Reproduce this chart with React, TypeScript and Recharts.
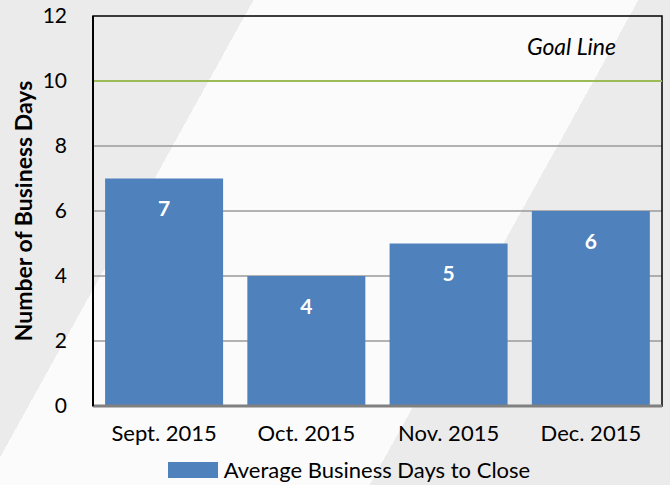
import React from 'react';
import {
  BarChart,
  Bar,
  XAxis,
  YAxis,
  CartesianGrid,
  ReferenceLine,
  ReferenceArea,
  Legend,
  LabelList,
} from 'recharts';

document.body.style.margin = '0';

const months = ['Sept. 2015', 'Oct. 2015', 'Nov. 2015', 'Dec. 2015'];
const avgDays = [7, 4, 5, 6];
const yTicks = [0, 2, 4, 6, 8, 10, 12];
const goal = 10;
const seriesName = 'Average Business Days to Close';

const data = months.map((m, i) => ({ month: m, days: avgDays[i] }));

const FONT = 'Lato, "Open Sans", sans-serif';

const LegendContent = () => (
  <div
    style={{
      display: 'flex',
      justifyContent: 'center',
      alignItems: 'center',
      fontFamily: FONT,
      fontSize: 22,
      color: '#000',
      paddingLeft: 36,
    }}
  >
    <span style={{ width: 50, height: 16, background: '#4f81bd', marginRight: 6, display: 'inline-block' }} />
    <span>{seriesName}</span>
  </div>
);

const App: React.FC = () => {
  return (
    <div
      style={{
        width: 670,
        height: 485,
        background:
          'linear-gradient(119deg, #ebebeb 0%, #ebebeb 27%, #fbfbfb 27%, #fbfbfb 68%, #ebebeb 68%, #ebebeb 100%)',
        fontFamily: FONT,
      }}
    >
      <BarChart
        width={670}
        height={485}
        data={data}
        margin={{ top: 16, right: 8, bottom: 22, left: 0 }}
        barCategoryGap="8.5%"
      >
        <CartesianGrid vertical={false} stroke="#9a9a9a" strokeWidth={1.5} horizontalValues={[2, 4, 6, 8]} />
        <ReferenceArea y1={0} y2={12} fill="none" stroke="#000" strokeWidth={1.5} ifOverflow="visible" />
        <XAxis
          dataKey="month"
          tickLine={false}
          axisLine={{ stroke: '#808080', strokeWidth: 3 }}
          tick={{ fill: '#000', fontSize: 22, fontFamily: FONT }}
          tickMargin={13}
        />
        <YAxis
          width={93}
          domain={[0, 12]}
          ticks={yTicks}
          interval={0}
          tickLine={false}
          axisLine={{ stroke: '#000', strokeWidth: 2 }}
          tick={{ fill: '#000', fontSize: 21, fontFamily: FONT }}
          tickMargin={20}
          label={{
            value: 'Number of Business Days',
            angle: -90,
            position: 'insideLeft',
            offset: 24,
            style: { textAnchor: 'middle', fontWeight: 700, fontSize: 23, fill: '#000', fontFamily: FONT },
          }}
        />
        <ReferenceLine
          y={goal}
          stroke="#9bbb59"
          strokeWidth={2}
          label={{
            value: 'Goal Line',
            position: 'insideTopRight',
            offset: 0,
            dx: -46,
            dy: -42,
            style: { fontStyle: 'italic', fontSize: 23, fill: '#000', fontFamily: FONT },
          }}
        />
        <Bar dataKey="days" name={seriesName} fill="#4f81bd" isAnimationActive={false}>
          <LabelList
            dataKey="days"
            position="insideTop"
            offset={23}
            style={{ fill: '#fff', fontWeight: 700, fontSize: 21, fontFamily: FONT }}
          />
        </Bar>
        <Legend verticalAlign="bottom" content={<LegendContent />} wrapperStyle={{ bottom: 2 }} />
      </BarChart>
    </div>
  );
};

export default App;
